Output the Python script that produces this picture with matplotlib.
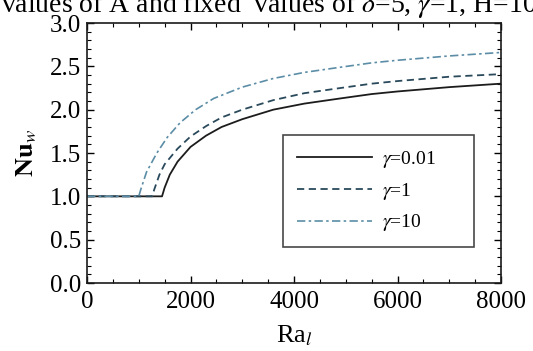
import numpy as np
import matplotlib.pyplot as plt
from matplotlib.ticker import MultipleLocator

plt.rcParams['font.family'] = ['Liberation Serif', 'DejaVu Serif']
plt.rcParams['mathtext.fontset'] = 'stix'

# curve readings (Ra_l, Nu_w)
ra_001 = [0, 1450, 1500, 1600, 1750, 2000, 2300, 2600, 3000, 3600, 4200, 4900, 5500, 6000, 7000, 8000]
nu_001 = [1.0, 1.0, 1.10, 1.25, 1.40, 1.57, 1.70, 1.80, 1.89, 2.00, 2.07, 2.13, 2.18, 2.21, 2.26, 2.30]

ra_1 = [0, 1260, 1300, 1400, 1500, 1750, 2000, 2300, 2600, 3000, 3600, 4200, 4900, 5500, 6000, 7000, 8000]
nu_1 = [1.0, 1.0, 1.08, 1.25, 1.37, 1.55, 1.69, 1.81, 1.91, 2.00, 2.11, 2.19, 2.25, 2.30, 2.33, 2.38, 2.41]

ra_10 = [0, 1000, 1050, 1150, 1350, 1550, 1800, 2100, 2450, 3000, 3600, 4200, 4900, 5500, 6000, 7000, 8000]
nu_10 = [1.0, 1.0, 1.10, 1.28, 1.50, 1.68, 1.85, 2.00, 2.13, 2.26, 2.36, 2.43, 2.49, 2.54, 2.57, 2.62, 2.66]

labels = [r'$\gamma$=0.01', r'$\gamma$=1', r'$\gamma$=10']

fig = plt.figure(figsize=(5.33, 3.51), dpi=100)
ax = fig.add_axes([87 / 533, 1 - 283 / 351, 414 / 533, 260 / 351])

ax.plot(ra_001, nu_001, color='#1c1c1c', lw=1.3, ls='-', label=labels[0])
ax.plot(ra_1, nu_1, color='#2a4a5c', lw=1.3, ls=(0, (4, 2.5)), label=labels[1])
ax.plot(ra_10, nu_10, color='#5b8da6', lw=1.2, ls=(0, (5, 2, 1.5, 2)), label=labels[2])

ax.set_xlim(0, 8000)
ax.set_ylim(0, 3.0)
ax.xaxis.set_major_locator(MultipleLocator(2000))
ax.xaxis.set_minor_locator(MultipleLocator(500))
ax.yaxis.set_major_locator(MultipleLocator(0.5))
ax.yaxis.set_minor_locator(MultipleLocator(0.1))
ax.yaxis.set_major_formatter(plt.FuncFormatter(lambda v, p: f'{v:.1f}'))
ax.tick_params(which='both', direction='in', top=True, right=True, labelsize=18)
ax.tick_params(axis='x', which='major', pad=6)
ax.tick_params(axis='y', which='major', pad=4)
ax.tick_params(which='major', length=5, width=1)
ax.tick_params(which='minor', length=3, width=0.8)
for s in ax.spines.values():
    s.set_linewidth(1.2)
    s.set_color('#1a1a1a')

ax.set_xlabel(r'Ra$_l$', fontsize=19, labelpad=7)
ax.set_ylabel(r'$\mathbf{Nu}_w$', fontsize=19, labelpad=8)

x0 = (283 - 87) / 414
y0 = (283 - 247) / 260
leg = ax.legend(loc='lower left', bbox_to_anchor=(x0, y0, (474 - 283) / 414, 0.43),
                mode='expand', fontsize=14,
                frameon=True, fancybox=False, edgecolor='#1a1a1a',
                handlelength=3.9, handletextpad=0.47, labelspacing=0.55,
                borderpad=0.7, borderaxespad=0)
leg.get_frame().set_linewidth(1.2)

fig.text(0.505, 1 - 12 / 351, 'values of A and fixed  values of $\\delta$=5, $\\gamma$=1, H=10',
         ha='center', va='baseline', fontsize=20)

fig.savefig('out.png', dpi=100)
